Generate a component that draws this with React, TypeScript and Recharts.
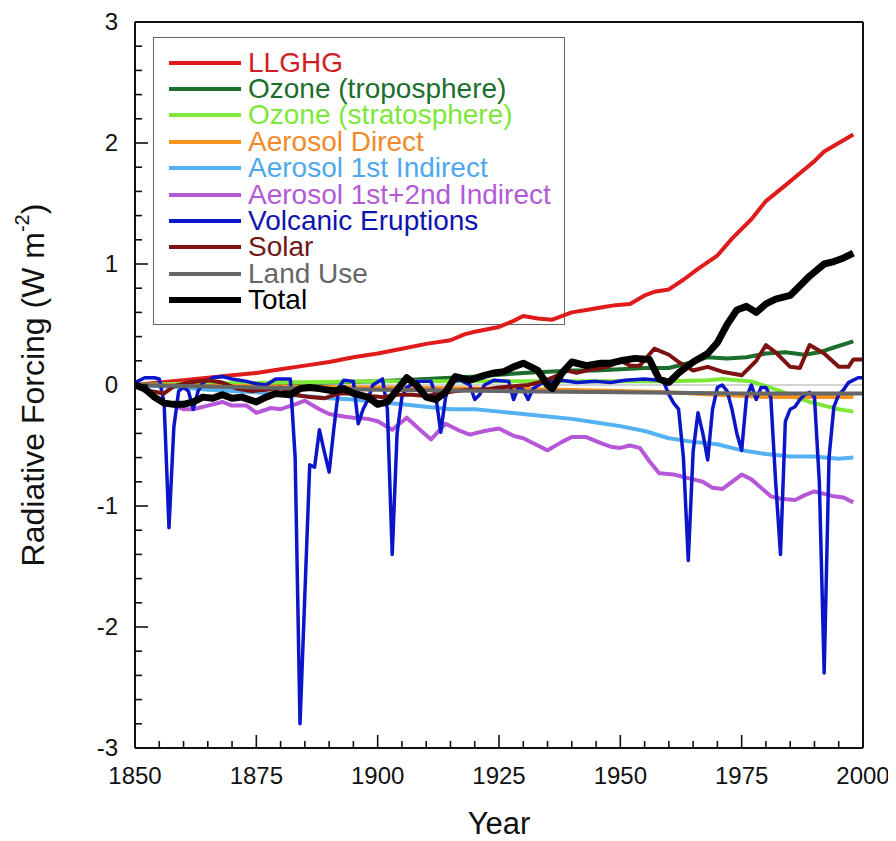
import React from 'react';
import { LineChart, Line, XAxis, YAxis, Label } from 'recharts';

// ---------- axis ticks ----------
const yearTicks = [1850, 1855, 1860, 1865, 1870, 1875, 1880, 1885, 1890, 1895, 1900, 1905, 1910, 1915, 1920, 1925, 1930, 1935, 1940, 1945, 1950, 1955, 1960, 1965, 1970, 1975, 1980, 1985, 1990, 1995, 2000];
const majorYears = [1850, 1875, 1900, 1925, 1950, 1975, 2000];
const forcingTicks = [-3, -2.8, -2.6, -2.4, -2.2, -2, -1.8, -1.6, -1.4, -1.2, -1, -0.8, -0.6, -0.4, -0.2, 0, 0.2, 0.4, 0.6, 0.8, 1, 1.2, 1.4, 1.6, 1.8, 2, 2.2, 2.4, 2.6, 2.8, 3];

// ---------- series data: [year, W m-2] ----------
const llghg: [number, number][] = [
  [1850, 0], [1855, 0.02], [1860, 0.04], [1865, 0.06], [1870, 0.08], [1875, 0.1], [1880, 0.13], [1885, 0.16],
  [1890, 0.19], [1895, 0.23], [1900, 0.26], [1905, 0.3], [1910, 0.34], [1915, 0.37], [1918, 0.42], [1920, 0.44],
  [1925, 0.48], [1928, 0.53], [1930, 0.57], [1933, 0.55], [1936, 0.54], [1940, 0.6], [1943, 0.62], [1946, 0.64],
  [1949, 0.66], [1952, 0.67], [1955, 0.74], [1957, 0.77], [1960, 0.79], [1963, 0.87], [1966, 0.96], [1970, 1.07],
  [1973, 1.21], [1977, 1.37], [1980, 1.52], [1984, 1.65], [1987, 1.75], [1990, 1.85], [1992, 1.93], [1995, 2.0], [1998, 2.07],
];

const ozoneTrop: [number, number][] = [
  [1850, 0], [1860, 0], [1870, 0.01], [1880, 0.01], [1890, 0.02], [1900, 0.03], [1910, 0.05], [1920, 0.07],
  [1930, 0.1], [1940, 0.12], [1945, 0.12], [1950, 0.13], [1955, 0.14], [1960, 0.14], [1965, 0.19], [1968, 0.23],
  [1972, 0.22], [1976, 0.23], [1980, 0.26], [1984, 0.27], [1988, 0.25], [1991, 0.27], [1994, 0.31], [1998, 0.36],
];

const ozoneStrat: [number, number][] = [
  [1850, 0], [1860, 0.01], [1880, 0.02], [1900, 0.03], [1920, 0.03], [1940, 0.03], [1960, 0.03], [1968, 0.04],
  [1971, 0.05], [1974, 0.04], [1977, 0.03], [1980, -0.01], [1983, -0.05], [1986, -0.1], [1989, -0.14],
  [1992, -0.17], [1995, -0.2], [1998, -0.22],
];

const aerosolDirect: [number, number][] = [
  [1850, 0], [1875, -0.01], [1900, -0.02], [1925, -0.03], [1950, -0.05], [1960, -0.06], [1970, -0.08],
  [1980, -0.1], [1990, -0.1], [1998, -0.1],
];

const aerosol1st: [number, number][] = [
  [1850, 0], [1855, -0.01], [1860, -0.02], [1865, -0.04], [1870, -0.05], [1875, -0.06], [1880, -0.08], [1885, -0.09],
  [1890, -0.11], [1895, -0.12], [1900, -0.14], [1905, -0.16], [1910, -0.18], [1915, -0.2], [1920, -0.2], [1925, -0.22],
  [1930, -0.24], [1935, -0.26], [1940, -0.28], [1945, -0.31], [1950, -0.34], [1955, -0.38], [1960, -0.44], [1965, -0.47],
  [1970, -0.49], [1975, -0.54], [1980, -0.57], [1985, -0.59], [1990, -0.59], [1995, -0.61], [1998, -0.6],
];

const aerosol12: [number, number][] = [
  [1850, 0], [1852, -0.05], [1855, -0.12], [1858, -0.17], [1860, -0.2], [1862, -0.2], [1865, -0.17], [1868, -0.14],
  [1870, -0.17], [1873, -0.17], [1875, -0.23], [1878, -0.19], [1880, -0.2], [1883, -0.16], [1885, -0.13], [1888, -0.2],
  [1890, -0.24], [1893, -0.26], [1895, -0.27], [1898, -0.28], [1900, -0.3], [1903, -0.37], [1906, -0.27], [1909, -0.38],
  [1911, -0.45], [1914, -0.32], [1917, -0.38], [1919, -0.41], [1922, -0.38], [1925, -0.36], [1928, -0.42], [1930, -0.44],
  [1933, -0.5], [1935, -0.54], [1938, -0.47], [1940, -0.43], [1943, -0.43], [1946, -0.48], [1948, -0.51], [1950, -0.52],
  [1952, -0.5], [1954, -0.52], [1956, -0.63], [1958, -0.73], [1961, -0.74], [1964, -0.77], [1967, -0.8], [1969, -0.85],
  [1971, -0.86], [1973, -0.8], [1975, -0.74], [1977, -0.78], [1979, -0.85], [1981, -0.92], [1983, -0.94], [1986, -0.95],
  [1988, -0.91], [1990, -0.88], [1992, -0.9], [1994, -0.92], [1996, -0.93], [1998, -0.97],
];

const volcanic: [number, number][] = [
  [1850, 0.02], [1852, 0.06], [1854, 0.06], [1855, 0.05], [1856, -0.15], [1857, -1.18], [1858, -0.35], [1859, -0.05],
  [1860, -0.02], [1861, -0.05], [1862, -0.2], [1863, -0.05], [1864, 0.02], [1866, 0.06], [1868, 0.07], [1870, 0.05],
  [1873, 0.03], [1875, 0.01], [1877, 0.0], [1879, 0.05], [1882, 0.05], [1883, -0.6], [1884, -2.8], [1885, -1.73],
  [1886, -0.66], [1887, -0.68], [1888, -0.37], [1889, -0.55], [1890, -0.72], [1891, -0.35], [1892, -0.02], [1893, 0.04],
  [1895, 0.03], [1896, -0.32], [1897, -0.2], [1898, -0.12], [1899, 0.0], [1901, 0.05], [1902, -0.2], [1903, -1.4],
  [1904, -0.4], [1905, -0.1], [1906, -0.02], [1908, 0.03], [1911, 0.03], [1912, -0.1], [1913, -0.39], [1914, -0.1],
  [1915, 0.02], [1917, 0.04], [1919, 0.0], [1920, -0.12], [1921, -0.08], [1922, 0.0], [1924, 0.04], [1927, 0.03],
  [1928, -0.12], [1929, -0.02], [1930, -0.04], [1931, -0.12], [1932, -0.03], [1934, 0.02], [1938, 0.04], [1941, 0.02],
  [1945, 0.03], [1948, 0.02], [1951, 0.04], [1955, 0.05], [1958, 0.04], [1959, 0.02], [1960, -0.08], [1961, -0.15],
  [1962, -0.2], [1963, -0.6], [1964, -1.45], [1965, -0.55], [1966, -0.23], [1967, -0.4], [1968, -0.62], [1969, -0.2],
  [1970, -0.02], [1971, 0.0], [1972, -0.05], [1973, -0.2], [1974, -0.4], [1975, -0.54], [1976, -0.1], [1977, 0.0],
  [1978, -0.12], [1979, -0.02], [1980, -0.02], [1981, -0.1], [1982, -0.8], [1983, -1.4], [1984, -0.3], [1985, -0.2],
  [1986, -0.18], [1987, -0.12], [1988, -0.08], [1989, -0.06], [1990, -0.1], [1991, -0.8], [1992, -2.38], [1993, -0.6],
  [1994, -0.18], [1995, -0.08], [1996, -0.04], [1997, 0.02], [1998, 0.04], [1999, 0.06], [2000, 0.06],
];

const solar: [number, number][] = [
  [1850, 0], [1853, -0.05], [1856, -0.07], [1858, -0.01], [1861, 0.02], [1865, 0.04], [1868, 0.02], [1871, -0.03],
  [1874, -0.05], [1877, -0.04], [1880, -0.02], [1883, -0.08], [1886, -0.1], [1889, -0.11], [1892, -0.07], [1895, -0.07],
  [1898, -0.09], [1901, -0.1], [1904, -0.08], [1907, -0.08], [1910, -0.09], [1913, -0.07], [1916, -0.05], [1919, -0.04],
  [1922, -0.04], [1925, -0.02], [1928, -0.01], [1931, 0.0], [1934, 0.03], [1936, 0.06], [1939, 0.12], [1941, 0.1],
  [1943, 0.12], [1946, 0.14], [1948, 0.16], [1950, 0.2], [1952, 0.16], [1954, 0.16], [1957, 0.3], [1960, 0.25],
  [1962, 0.19], [1965, 0.12], [1968, 0.15], [1971, 0.11], [1975, 0.08], [1978, 0.2], [1980, 0.33], [1982, 0.27],
  [1985, 0.15], [1987, 0.14], [1989, 0.33], [1992, 0.26], [1995, 0.15], [1997, 0.15], [1998, 0.21], [2000, 0.21],
];

const landUse: [number, number][] = [
  [1850, 0], [1875, -0.02], [1900, -0.04], [1925, -0.05], [1950, -0.06], [1975, -0.07], [2000, -0.07],
];

const total: [number, number][] = [
  [1850, 0], [1852, -0.03], [1854, -0.1], [1856, -0.15], [1858, -0.16], [1860, -0.16], [1862, -0.14], [1864, -0.1],
  [1866, -0.11], [1868, -0.08], [1870, -0.11], [1872, -0.1], [1875, -0.14], [1877, -0.1], [1879, -0.07], [1882, -0.08],
  [1884, -0.03], [1886, -0.02], [1888, -0.03], [1891, -0.05], [1893, -0.03], [1895, -0.07], [1898, -0.1], [1900, -0.16],
  [1902, -0.14], [1904, -0.04], [1906, 0.06], [1908, 0.0], [1910, -0.1], [1912, -0.12], [1914, -0.06], [1916, 0.07],
  [1919, 0.04], [1922, 0.08], [1924, 0.1], [1926, 0.11], [1928, 0.15], [1930, 0.18], [1933, 0.12], [1935, 0.0],
  [1936, -0.03], [1938, 0.1], [1940, 0.19], [1943, 0.16], [1946, 0.18], [1948, 0.18], [1950, 0.2], [1953, 0.22],
  [1956, 0.21], [1958, 0.05], [1960, 0.02], [1962, 0.1], [1965, 0.19], [1968, 0.26], [1970, 0.35], [1972, 0.5],
  [1974, 0.62], [1976, 0.65], [1978, 0.6], [1980, 0.67], [1982, 0.71], [1985, 0.74], [1987, 0.82], [1989, 0.9],
  [1992, 1.0], [1994, 1.02], [1996, 1.05], [1998, 1.09],
];

// ---------- series definitions ----------
const seriesList = [
  { name: 'LLGHG', points: llghg, color: '#e01b1b', text: '#d01f26', width: 4 },
  { name: 'Ozone (troposphere)', points: ozoneTrop, color: '#1c6e2c', text: '#1c6e2c', width: 4 },
  { name: 'Ozone (stratosphere)', points: ozoneStrat, color: '#7ee83a', text: '#7ee83a', width: 4 },
  { name: 'Aerosol Direct', points: aerosolDirect, color: '#f7931e', text: '#f2892a', width: 4 },
  { name: 'Aerosol 1st Indirect', points: aerosol1st, color: '#55b2f2', text: '#4fa8ee', width: 4 },
  { name: 'Aerosol 1st+2nd Indirect', points: aerosol12, color: '#b657d8', text: '#b35ad6', width: 4 },
  { name: 'Volcanic Eruptions', points: volcanic, color: '#0a16c8', text: '#0e14b0', width: 3.5 },
  { name: 'Solar', points: solar, color: '#7d1212', text: '#701818', width: 4 },
  { name: 'Land Use', points: landUse, color: '#666666', text: '#666666', width: 4 },
  { name: 'Total', points: total, color: '#000000', text: '#000000', width: 7 },
];

const FONT = "'Liberation Sans', Arial, Helvetica, sans-serif";
const AXIS = '#111111';

const W = 888;
const H = 833;
const MARGIN = { top: 13, right: 32, bottom: 0, left: 0 };
const LEFT_W = 127;
const BOTTOM_H = 93;
const X_DOMAIN: [number, number] = [1850, 2000];
const Y_DOMAIN: [number, number] = [-3, 3];
const MAJOR_LEN = 13;
const MINOR_LEN = 7;

const isMajorY = (v: number) => Math.abs(v - Math.round(v)) < 1e-6;

const zeroPath = [{ year: X_DOMAIN[0], v: 0 }, { year: X_DOMAIN[1], v: 0 }];

// custom axis ticks: inward tick marks, labels only on major ticks
const BottomTick = (props: any) => {
  const { x, y, payload } = props;
  const v = payload.value;
  const major = majorYears.includes(v);
  return (
    <g>
      <line x1={x} y1={y} x2={x} y2={y - (major ? MAJOR_LEN : MINOR_LEN)} stroke={AXIS} strokeWidth={1.6} />
      {major && (
        <text x={x} y={y + 19} dy="0.71em" textAnchor="middle" fontSize={24} fill="#111" stroke="none" fontFamily={FONT}>
          {v}
        </text>
      )}
    </g>
  );
};

const TopTick = (props: any) => {
  const { x, y, payload } = props;
  const major = majorYears.includes(payload.value);
  return <line x1={x} y1={y} x2={x} y2={y + (major ? MAJOR_LEN : MINOR_LEN)} stroke={AXIS} strokeWidth={1.6} />;
};

const LeftTick = (props: any) => {
  const { x, y, payload } = props;
  const v = payload.value;
  const major = isMajorY(v);
  return (
    <g>
      <line x1={x} y1={y} x2={x + (major ? MAJOR_LEN : MINOR_LEN)} y2={y} stroke={AXIS} strokeWidth={1.6} />
      {major && (
        <text x={x - 17} y={y} dy="0.35em" textAnchor="end" fontSize={24} fill="#111" stroke="none" fontFamily={FONT}>
          {Math.round(v)}
        </text>
      )}
    </g>
  );
};

const RightTick = (props: any) => {
  const { x, y, payload } = props;
  const major = isMajorY(payload.value);
  return <line x1={x} y1={y} x2={x - (major ? MAJOR_LEN : MINOR_LEN)} y2={y} stroke={AXIS} strokeWidth={1.6} />;
};

const YTitle = (props: any) => {
  const vb = props.viewBox || { x: 0, y: 14, width: 127, height: 726 };
  const cx = vb.x + 25;
  const cy = vb.y + vb.height / 2;
  return (
    <text
      x={cx}
      y={cy}
      transform={`rotate(-90 ${cx} ${cy})`}
      textAnchor="middle"
      dominantBaseline="central"
      fontSize={32}
      fill="#111"
      fontFamily={FONT}
    >
      Radiative Forcing (W m
      <tspan dy={-11} fontSize={20}>-2</tspan>
      <tspan dy={11}>)</tspan>
    </text>
  );
};

const XTitle = (props: any) => {
  const vb = props.viewBox || { x: 127, y: 740, width: 728, height: 93 };
  return (
    <text
      x={vb.x + vb.width / 2}
      y={vb.y + 75}
      dy="0.35em"
      textAnchor="middle"
      fontSize={31}
      fill="#111"
      fontFamily={FONT}
    >
      Year
    </text>
  );
};

const LegendBox = () => (
  <div
    style={{
      position: 'absolute',
      left: 145,
      top: 29,
      width: 412,
      height: 288,
      border: '1.5px solid #666',
      boxSizing: 'border-box',
      background: '#fff',
      fontFamily: FONT,
    }}
  >
    {seriesList.map((s, i) => (
      <div
        key={s.name}
        style={{
          position: 'absolute',
          left: 0,
          top: 24.5 + i * 26.4 - 13,
          height: 26,
          display: 'flex',
          alignItems: 'center',
          whiteSpace: 'nowrap',
        }}
      >
        <div style={{ marginLeft: 15, width: 72, height: s.width > 5 ? 6 : 4, background: s.color }} />
        <span style={{ marginLeft: 7, fontSize: 28, color: s.text, lineHeight: '26px' }}>{s.name}</span>
      </div>
    ))}
  </div>
);

export default function App() {
  return (
    <div style={{ position: 'relative', width: W, height: H }}>
      <LegendBox />
      <div style={{ position: 'absolute', left: 0, top: 0 }}>
        <LineChart width={W} height={H} margin={MARGIN}>
          <XAxis
            dataKey="year"
            type="number"
            domain={X_DOMAIN}
            ticks={yearTicks}
            interval={0}
            tick={<BottomTick />}
            tickLine={false}
            tickSize={0}
            tickMargin={0}
            height={BOTTOM_H}
            axisLine={{ stroke: AXIS, strokeWidth: 2 }}
          >
            <Label content={<XTitle />} />
          </XAxis>
          <XAxis
            xAxisId="top"
            orientation="top"
            dataKey="year"
            type="number"
            domain={X_DOMAIN}
            ticks={yearTicks}
            interval={0}
            tick={<TopTick />}
            tickLine={false}
            tickSize={0}
            tickMargin={0}
            height={1}
            axisLine={{ stroke: AXIS, strokeWidth: 2 }}
          />
          <YAxis
            type="number"
            domain={Y_DOMAIN}
            ticks={forcingTicks}
            interval={0}
            tick={<LeftTick />}
            tickLine={false}
            tickSize={0}
            tickMargin={0}
            width={LEFT_W}
            axisLine={{ stroke: AXIS, strokeWidth: 2 }}
          >
            <Label content={<YTitle />} />
          </YAxis>
          <YAxis
            yAxisId="right"
            orientation="right"
            type="number"
            domain={Y_DOMAIN}
            ticks={forcingTicks}
            interval={0}
            tick={<RightTick />}
            tickLine={false}
            tickSize={0}
            tickMargin={0}
            width={1}
            axisLine={{ stroke: AXIS, strokeWidth: 2 }}
          />
          <Line
            name="zero"
            data={zeroPath}
            dataKey="v"
            type="linear"
            stroke="#a8a8a8"
            strokeWidth={1.2}
            dot={false}
            activeDot={false}
            isAnimationActive={false}
          />
          {seriesList.map((s) => (
            <Line
              key={s.name}
              name={s.name}
              data={s.points.map(([year, v]) => ({ year, v }))}
              dataKey="v"
              type="linear"
              stroke={s.color}
              strokeWidth={s.width}
              strokeLinejoin="round"
              dot={false}
              activeDot={false}
              isAnimationActive={false}
            />
          ))}
        </LineChart>
      </div>
    </div>
  );
}
